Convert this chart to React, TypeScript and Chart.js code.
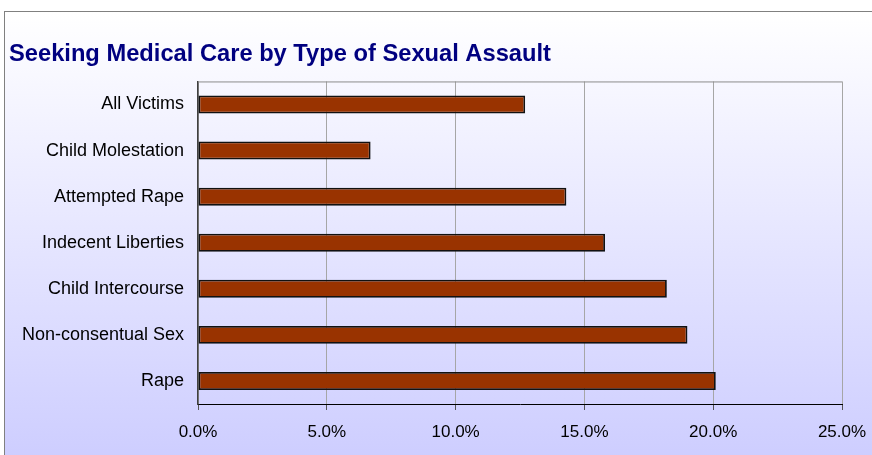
import React, { useEffect, useRef } from "react";
import { Chart, registerables } from "chart.js";

Chart.register(...registerables);

const categories = [
  "All Victims",
  "Child Molestation",
  "Attempted Rape",
  "Indecent Liberties",
  "Child Intercourse",
  "Non-consentual Sex",
  "Rape",
];
const values = [12.7, 6.7, 14.3, 15.8, 18.2, 19.0, 20.1];
const xTicksMin = 0;
const xTicksMax = 25;
const xTickStep = 5;
const titleText = "Seeking Medical Care by Type of Sexual Assault";

const FONT = "Arial, 'Liberation Sans', sans-serif";

const frameLines = {
  id: "frameLines",
  afterDatasetsDraw(chart: any) {
    const { ctx, chartArea } = chart;
    ctx.save();
    ctx.strokeStyle = "#8c8c8c";
    ctx.lineWidth = 1;
    ctx.beginPath();
    ctx.moveTo(chartArea.left, chartArea.top + 0.5);
    ctx.lineTo(chartArea.right, chartArea.top + 0.5);
    ctx.stroke();
    ctx.restore();
  },
};

export default function App() {
  const ref = useRef<HTMLCanvasElement>(null);

  useEffect(() => {
    if (!ref.current) return;
    const chart = new Chart(ref.current, {
      type: "bar",
      data: {
        labels: categories,
        datasets: [
          {
            data: values,
            backgroundColor: "#993300",
            borderColor: "#111111",
            borderWidth: 1.8,
            borderSkipped: false,
            barPercentage: 0.39,
            categoryPercentage: 1,
          },
        ],
      },
      plugins: [frameLines],
      options: {
        indexAxis: "y",
        responsive: false,
        animation: false,
        layout: { padding: { left: 9, right: 30, top: 0, bottom: 0 } },
        plugins: {
          legend: { display: false },
          tooltip: { enabled: false },
          title: {
            display: true,
            text: titleText,
            align: "start",
            color: "#000080",
            font: { family: FONT, size: 23.7, weight: "bold" },
            padding: { top: 40, bottom: 13 },
          },
        },
        scales: {
          x: {
            min: xTicksMin,
            max: xTicksMax,
            afterFit(scale: any) {
              scale.height = 51;
              scale.paddingRight = 0;
              scale.paddingLeft = 0;
            },
            ticks: {
              stepSize: xTickStep,
              color: "#000000",
              font: { family: FONT, size: 17 },
              padding: 12,
              callback: (v: any) => Number(v).toFixed(1) + "%",
            },
            grid: {
              color: "#a6a6a6",
              lineWidth: 1,
              tickLength: 6,
              tickColor: "#555555",
            },
            border: { color: "#000000", width: 1 },
          },
          y: {
            afterFit(scale: any) {
              scale.width = 189;
            },
            ticks: {
              color: "#000000",
              font: { family: FONT, size: 18 },
              padding: 14,
            },
            grid: { display: false, drawTicks: false },
            border: { color: "#404040", width: 1.5 },
          },
        },
      },
    });
    return () => chart.destroy();
  }, []);

  return (
    <div>
      <div
        style={{
          position: "fixed",
          left: 4,
          top: 11,
          width: 900,
          height: 460,
          border: "1px solid #808080",
          boxSizing: "border-box",
          background: "linear-gradient(to bottom, #ffffff 0%, #ccccff 100%)",
        }}
      />
      <canvas
        ref={ref}
        width={872}
        height={455}
        style={{ position: "fixed", left: 0, top: 0, width: 872, height: 455 }}
      />
    </div>
  );
}
